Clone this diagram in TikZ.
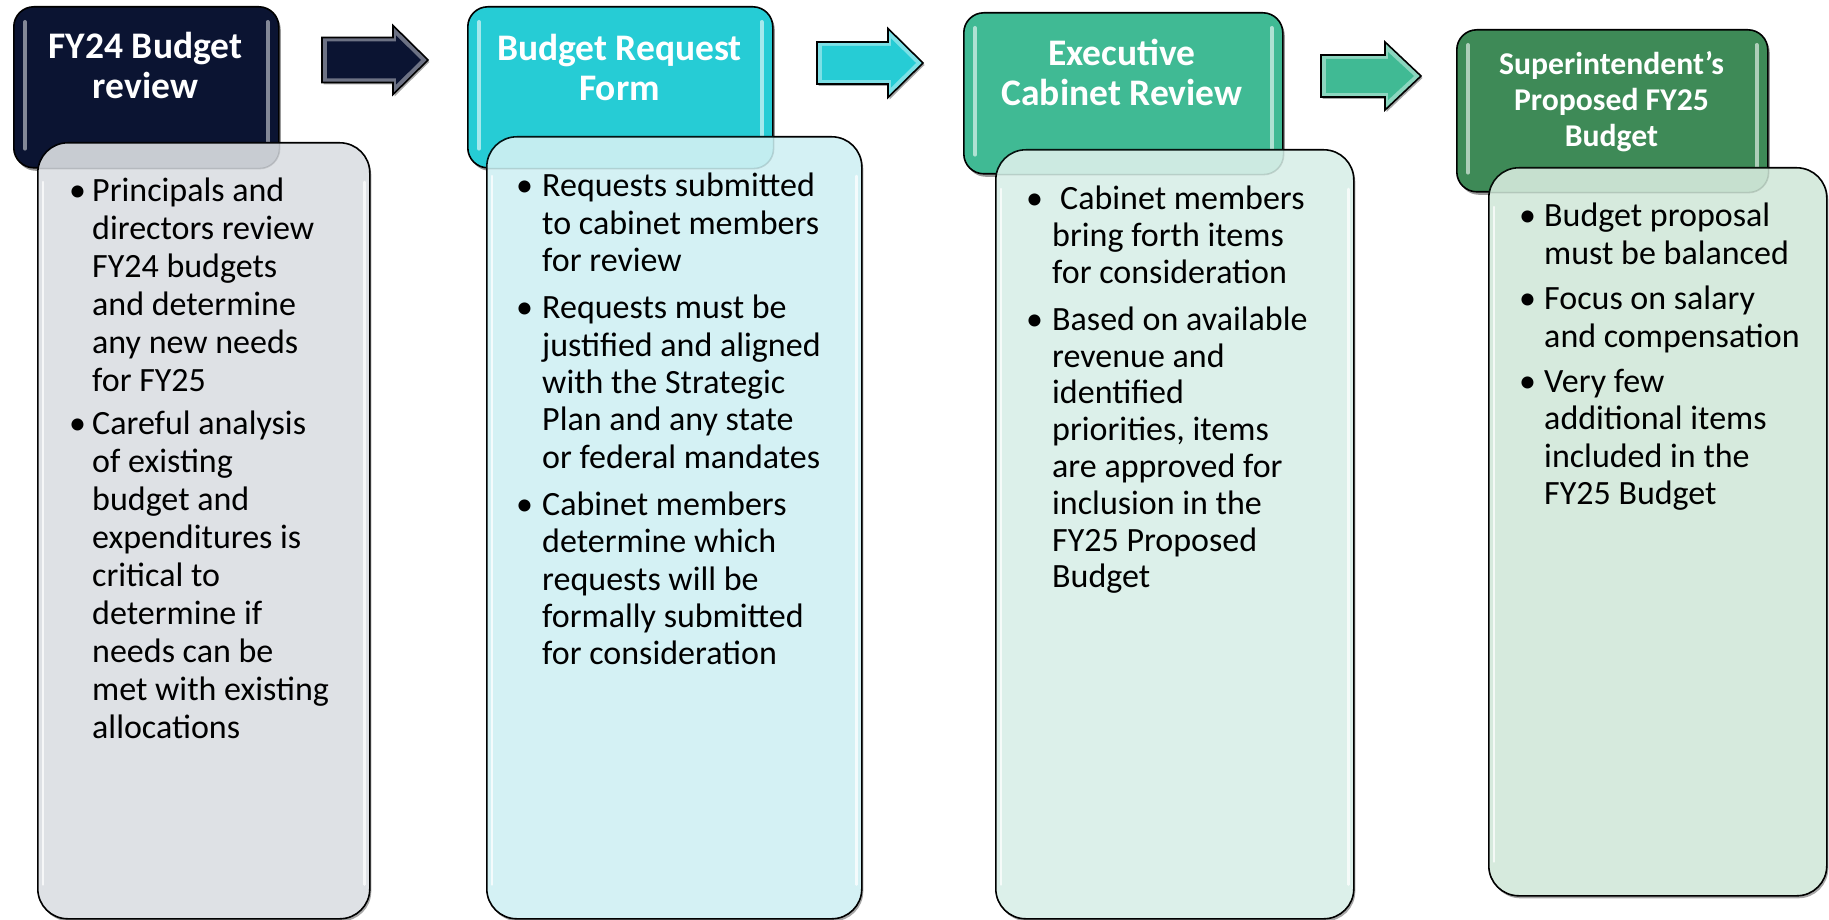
\documentclass[tikz,border=0pt]{standalone}
\usepackage{fontspec}
\setmainfont{Carlito}
\usetikzlibrary{shadows}

% header fills
\definecolor{hdA}{RGB}{11,20,50}
\definecolor{hdB}{RGB}{38,204,213}
\definecolor{hdC}{RGB}{64,186,148}
\definecolor{hdD}{RGB}{62,138,87}
% body fills
\definecolor{bdA}{RGB}{222,225,229}
\definecolor{bdB}{RGB}{212,241,244}
\definecolor{bdC}{RGB}{220,240,234}
\definecolor{bdD}{RGB}{214,234,221}

% block arrow: #1 colour, #2 tail x, #3 head base x, #4 tip x, #5 centre y,
% #6 half shaft height, #7 half head height
\newcommand\flowarrow[7]{%
  \path[draw=black, line width=1.6pt, fill=#1!60!white, arrowshadow]
    (#2,#5-#6) -- (#3,#5-#6) -- (#3,#5-#7) -- (#4,#5) -- (#3,#5+#7)
    -- (#3,#5+#6) -- (#2,#5+#6) -- cycle;
  \fill[#1] (#2+5,#5-#6+4) -- (#3+3,#5-#6+4) -- (#3+3,#5-#7+10)
    -- (#4-7,#5) -- (#3+3,#5+#7-10) -- (#3+3,#5+#6-4) -- (#2+5,#5+#6-4) -- cycle;
}

% faint view of a header through the translucent top of its body box
\newcommand\seethrough[3]{% #1 body node, #2 header node, #3 colour
  \begin{scope}
    \clip[rounded corners=30pt] (#1.north west) rectangle (#1.south east);
    \fill[#3, opacity=0.10, rounded corners=20pt] (#2.north west) rectangle (#2.south east);
    \draw[black, opacity=0.12, line width=1.6pt, rounded corners=20pt] (#2.north west) rectangle (#2.south east);
  \end{scope}}

\begin{document}
\begin{tikzpicture}[x=1pt,y=-1pt,
  arrowshadow/.style={drop shadow={shadow xshift=1.5pt, shadow yshift=-2pt, opacity=0.35, fill=black}},
  headbox/.style={draw=black, line width=1.6pt, rounded corners=20pt, inner sep=0pt,
    anchor=north west,
    drop shadow={shadow xshift=2pt, shadow yshift=-3pt, opacity=0.4, fill=black}},
  bodybox/.style={draw=black, line width=1.6pt, rounded corners=30pt, inner sep=0pt,
    anchor=north west,
    drop shadow={shadow xshift=1.5pt, shadow yshift=-2.5pt, opacity=0.35, fill=black}},
  hlstrip/.style={line width=4pt, line cap=round, opacity=0.9},
  bodystrip/.style={line width=2.5pt, line cap=round, white, opacity=0.75},
  headtext/.style={text=white, align=center, inner sep=0pt, anchor=base,
    font=\bfseries\fontsize{37.5}{40}\selectfont},
  bodytext/.style={text=black, inner sep=0pt, anchor=base west}
]
\useasboundingbox (0,0) rectangle (1829,920);

% ---------- stage 1 ----------
\node[headbox, fill=hdA, minimum width=265pt, minimum height=161pt] (h1) at (13,6) {};
\draw[hlstrip, hdA!45!white] ([xshift=12pt,yshift=-16pt]h1.north west) -- ([xshift=12pt,yshift=20pt]h1.south west);
\draw[hlstrip, hdA!45!white] ([xshift=-12pt,yshift=-16pt]h1.north east) -- ([xshift=-12pt,yshift=20pt]h1.south east);
\node[headtext] (t1) at (145.5,99) {FY24 Budget\\review};

\node[bodybox, fill=bdA, minimum width=332pt, minimum height=776pt] (b1) at (37,142) {};
\seethrough{b1}{h1}{hdA}
\draw[bodystrip] ([xshift=6pt,yshift=-40pt]b1.north west) -- ([xshift=6pt,yshift=35pt]b1.south west);
\draw[bodystrip] ([xshift=-6pt,yshift=-40pt]b1.north east) -- ([xshift=-6pt,yshift=35pt]b1.south east);
\node[bodytext, font=\fontsize{34}{37.9}\selectfont] (p1) at (69,202) {%
\begin{tabular}[t]{@{}p{23pt}@{}l@{}}
\textbullet & Principals and\\
 & directors review\\
 & FY24 budgets\\
 & and determine\\
 & any new needs\\
 & for FY25\\[5.5pt]
\textbullet & Careful analysis\\
 & of existing\\
 & budget and\\
 & expenditures is\\
 & critical to\\
 & determine if\\
 & needs can be\\
 & met with existing\\
 & allocations
\end{tabular}};

% ---------- stage 2 ----------
\node[headbox, fill=hdB, minimum width=305pt, minimum height=161pt] (h2) at (467,6) {};
\draw[hlstrip, hdB!35!white] ([xshift=12pt,yshift=-16pt]h2.north west) -- ([xshift=12pt,yshift=20pt]h2.south west);
\draw[hlstrip, hdB!35!white] ([xshift=-12pt,yshift=-16pt]h2.north east) -- ([xshift=-12pt,yshift=20pt]h2.south east);
\node[headtext] (t2) at (619.5,101) {Budget Request\\Form};

\node[bodybox, fill=bdB, minimum width=375pt, minimum height=782pt] (b2) at (486,136) {};
\seethrough{b2}{h2}{hdB}
\draw[bodystrip] ([xshift=6pt,yshift=-40pt]b2.north west) -- ([xshift=6pt,yshift=35pt]b2.south west);
\draw[bodystrip] ([xshift=-6pt,yshift=-40pt]b2.north east) -- ([xshift=-6pt,yshift=35pt]b2.south east);
\node[bodytext, font=\fontsize{34}{37.4}\selectfont] (p2) at (516,197) {%
\begin{tabular}[t]{@{}p{26pt}@{}l@{}}
\textbullet & Requests submitted\\
 & to cabinet members\\
 & for review\\[9.6pt]
\textbullet & Requests must be\\
 & justified and aligned\\
 & with the Strategic\\
 & Plan and any state\\
 & or federal mandates\\[9.6pt]
\textbullet & Cabinet members\\
 & determine which\\
 & requests will be\\
 & formally submitted\\
 & for consideration
\end{tabular}};

% ---------- stage 3 ----------
\node[headbox, fill=hdC, minimum width=319pt, minimum height=161pt] (h3) at (963,12) {};
\draw[hlstrip, hdC!35!white] ([xshift=12pt,yshift=-16pt]h3.north west) -- ([xshift=12pt,yshift=20pt]h3.south west);
\draw[hlstrip, hdC!35!white] ([xshift=-12pt,yshift=-16pt]h3.north east) -- ([xshift=-12pt,yshift=20pt]h3.south east);
\node[headtext] (t3) at (1122,106) {Executive\\Cabinet Review};

\node[bodybox, fill=bdC, minimum width=358pt, minimum height=769pt] (b3) at (995,149) {};
\seethrough{b3}{h3}{hdC}
\draw[bodystrip] ([xshift=6pt,yshift=-40pt]b3.north west) -- ([xshift=6pt,yshift=35pt]b3.south west);
\draw[bodystrip] ([xshift=-6pt,yshift=-40pt]b3.north east) -- ([xshift=-6pt,yshift=35pt]b3.south east);
\node[bodytext, font=\fontsize{34}{36.8}\selectfont] (p3) at (1026,210) {%
\begin{tabular}[t]{@{}p{26pt}@{}l@{}}
\textbullet & \hspace{8pt}Cabinet members\\
 & bring forth items\\
 & for consideration\\[10pt]
\textbullet & Based on available\\
 & revenue and\\
 & identified\\
 & priorities, items\\
 & are approved for\\
 & inclusion in the\\
 & FY25 Proposed\\
 & Budget
\end{tabular}};

% ---------- stage 4 ----------
\node[headbox, fill=hdD, minimum width=311pt, minimum height=162pt] (h4) at (1456,29) {};
\draw[hlstrip, hdD!35!white] ([xshift=12pt,yshift=-16pt]h4.north west) -- ([xshift=12pt,yshift=20pt]h4.south west);
\draw[hlstrip, hdD!35!white] ([xshift=-12pt,yshift=-16pt]h4.north east) -- ([xshift=-12pt,yshift=20pt]h4.south east);
\node[headtext, font=\bfseries\fontsize{31.7}{36}\selectfont] (t4) at (1611.5,147) {Superintendent’s\\Proposed FY25\\Budget};

\node[bodybox, fill=bdD, minimum width=338pt, minimum height=728pt] (b4) at (1488,167) {};
\seethrough{b4}{h4}{hdD}
\draw[bodystrip] ([xshift=6pt,yshift=-40pt]b4.north west) -- ([xshift=6pt,yshift=35pt]b4.south west);
\node[bodytext, font=\fontsize{34}{37.6}\selectfont] (p4) at (1519,227) {%
\begin{tabular}[t]{@{}p{25pt}@{}l@{}}
\textbullet & Budget proposal\\
 & must be balanced\\[7.4pt]
\textbullet & Focus on salary\\
 & and compensation\\[7.4pt]
\textbullet & Very few\\
 & additional items\\
 & included in the\\
 & FY25 Budget
\end{tabular}};

% ---------- arrows between stages ----------
\flowarrow{hdA}{322}{393}{428}{60}{22.5}{34.5}
\flowarrow{hdB}{817}{888}{923}{63}{21}{34.5}
\flowarrow{hdC}{1321}{1385}{1421}{76}{21}{34}
\end{tikzpicture}
\end{document}
